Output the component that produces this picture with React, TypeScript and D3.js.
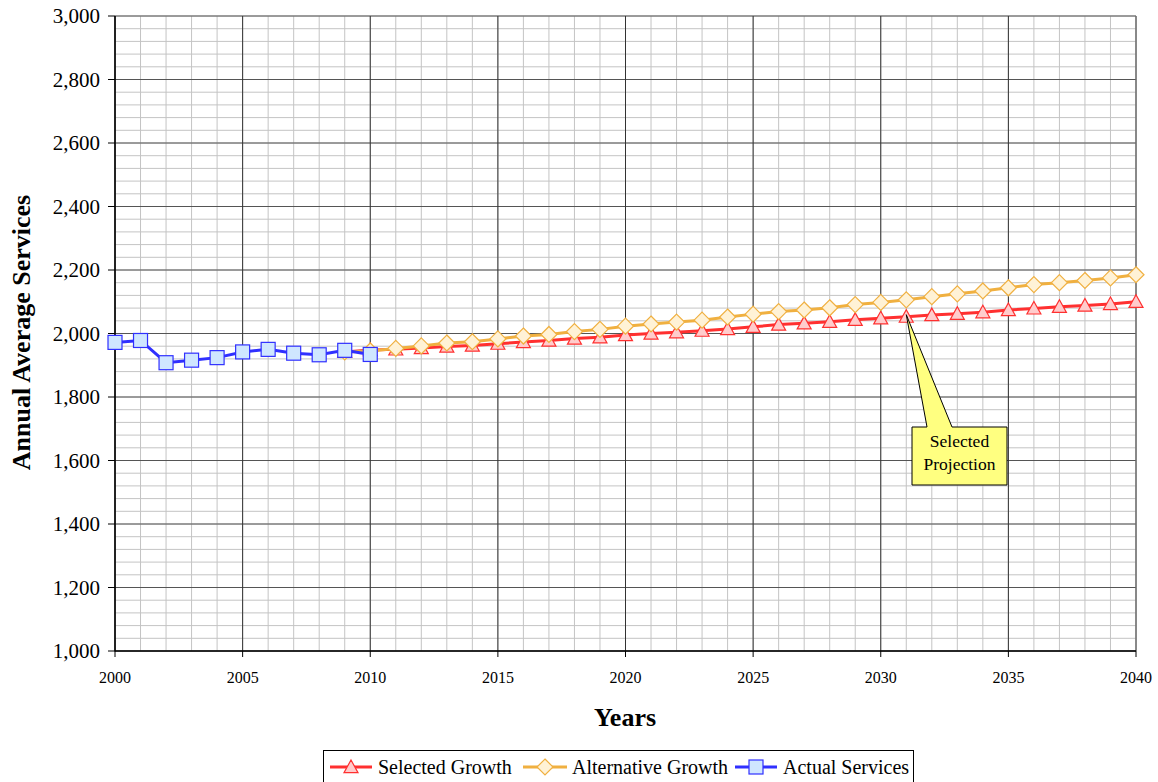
import React from "react";
import * as d3 from "d3";

// Annual average services: actual history and two growth projections
const actualYears = [2000, 2001, 2002, 2003, 2004, 2005, 2006, 2007, 2008, 2009, 2010];
const actualServices = [1972, 1978, 1908, 1916, 1924, 1942, 1950, 1938, 1933, 1947, 1934];

const projectionYears = [
  2009, 2010, 2011, 2012, 2013, 2014, 2015, 2016, 2017, 2018, 2019, 2020,
  2021, 2022, 2023, 2024, 2025, 2026, 2027, 2028, 2029, 2030, 2031, 2032,
  2033, 2034, 2035, 2036, 2037, 2038, 2039, 2040,
];
const selectedGrowth = [
  1942, 1948, 1950, 1954, 1959, 1962, 1968, 1973, 1978, 1984, 1988, 1995,
  2000, 2004, 2009, 2014, 2021, 2028, 2032, 2037, 2043, 2048, 2053, 2058,
  2062, 2067, 2074, 2079, 2084, 2088, 2093, 2100,
];
const alternativeGrowth = [
  1942, 1945, 1953, 1961, 1970, 1974, 1983, 1992, 1997, 2006, 2013, 2023,
  2030, 2036, 2042, 2052, 2061, 2069, 2074, 2081, 2091, 2098, 2106, 2116,
  2125, 2134, 2144, 2154, 2160, 2167, 2175, 2185,
];

const yTicks = [1000, 1200, 1400, 1600, 1800, 2000, 2200, 2400, 2600, 2800, 3000];
const xTicks = [2000, 2005, 2010, 2015, 2020, 2025, 2030, 2035, 2040];
const calloutYear = 2031;
const calloutLines = ["Selected", "Projection"];

const W = 1158;
const H = 782;
const FONT = "'Liberation Serif', 'Times New Roman', serif";

const left = 115;
const right = 1136;
const top = 16;
const bottom = 651;

type Pt = { x: number; y: number };

export default function App() {
  const x = d3.scaleLinear().domain([2000, 2040]).range([left, right]);
  const y = d3.scaleLinear().domain([1000, 3000]).range([bottom, top]);

  const line = d3
    .line<Pt>()
    .x((d) => d.x)
    .y((d) => d.y);

  const actualPts = actualYears.map((yr, i) => ({ x: x(yr), y: y(actualServices[i]) }));
  const selPts = projectionYears.map((yr, i) => ({ x: x(yr), y: y(selectedGrowth[i]) }));
  const altPts = projectionYears.map((yr, i) => ({ x: x(yr), y: y(alternativeGrowth[i]) }));

  const minorY = d3.range(1000, 3001, 40);
  const minorX = d3.range(2000, 2041, 1);

  const tri = (cx: number, cy: number, s = 7) =>
    `M${cx},${cy - s} L${cx + s},${cy + s * 0.8} L${cx - s},${cy + s * 0.8} Z`;
  const diamond = (cx: number, cy: number, s = 8) =>
    `M${cx},${cy - s} L${cx + s},${cy} L${cx},${cy + s} L${cx - s},${cy} Z`;

  const red = "#ff3030";
  const redFill = "#ffcccc";
  const orange = "#f0b040";
  const orangeFill = "#fff2d6";
  const blue = "#3030ff";
  const blueFill = "#cfe6ff";

  // callout anchored to the selected projection at calloutYear
  const ci = projectionYears.indexOf(calloutYear);
  const tipX = x(calloutYear);
  const tipY = y(selectedGrowth[ci]) - 2;
  const bx = 912;
  const by = 427;
  const bw = 95;
  const bh = 58;

  const legendY = 767;

  return (
    <svg width={W} height={H} style={{ position: "absolute", left: 0, top: 0, background: "#fff" }}>
      <rect x={0} y={0} width={W} height={H} fill="#fff" />
      {/* minor grid */}
      {minorY.map((v) => (
        <line key={"my" + v} x1={left} x2={right} y1={y(v)} y2={y(v)} stroke="#c4c4c4" strokeWidth={1} />
      ))}
      {minorX.map((v) => (
        <line key={"mx" + v} x1={x(v)} x2={x(v)} y1={top} y2={bottom} stroke="#c4c4c4" strokeWidth={1} />
      ))}
      {/* major grid */}
      {yTicks.map((v) => (
        <line key={"gy" + v} x1={left} x2={right} y1={y(v)} y2={y(v)} stroke="#555" strokeWidth={1} />
      ))}
      {xTicks.map((v) => (
        <line key={"gx" + v} x1={x(v)} x2={x(v)} y1={top} y2={bottom} stroke="#333" strokeWidth={1} />
      ))}
      <line x1={right} x2={right} y1={top} y2={bottom} stroke="#888" />
      {/* axes */}
      <line x1={left} x2={left} y1={top} y2={bottom + 0.5} stroke="#000" strokeWidth={1.5} />
      <line x1={left} x2={right} y1={bottom} y2={bottom} stroke="#000" strokeWidth={1.5} />
      {yTicks.map((v) => (
        <g key={"ty" + v}>
          <line x1={left - 7} x2={left} y1={y(v)} y2={y(v)} stroke="#000" />
          <text x={100} y={y(v)} dy="0.35em" textAnchor="end" fontFamily={FONT} fontSize={21} fill="#000">
            {d3.format(",")(v)}
          </text>
        </g>
      ))}
      {xTicks.map((v) => (
        <g key={"tx" + v}>
          <line x1={x(v)} x2={x(v)} y1={bottom} y2={bottom + 6} stroke="#000" />
          <text x={x(v)} y={683} textAnchor="middle" fontFamily={FONT} fontSize={16} fill="#000">
            {v}
          </text>
        </g>
      ))}
      <text x={625} y={726} textAnchor="middle" fontFamily={FONT} fontSize={26} fontWeight="bold">
        Years
      </text>
      <text
        transform={`translate(30,${(top + bottom) / 2 - 1}) rotate(-90)`}
        textAnchor="middle"
        fontFamily={FONT}
        fontSize={26}
        fontWeight="bold"
      >
        Annual Average Services
      </text>

      {/* selected growth */}
      <path d={line(selPts) ?? ""} fill="none" stroke={red} strokeWidth={3} />
      {selPts.map((p, i) => (
        <path key={"s" + i} d={tri(p.x, p.y)} fill={redFill} stroke={red} strokeWidth={1.2} />
      ))}
      {/* alternative growth */}
      <path d={line(altPts) ?? ""} fill="none" stroke={orange} strokeWidth={3} />
      {altPts.map((p, i) => (
        <path key={"a" + i} d={diamond(p.x, p.y)} fill={orangeFill} stroke={orange} strokeWidth={1.2} />
      ))}
      {/* actual services */}
      <path d={line(actualPts) ?? ""} fill="none" stroke={blue} strokeWidth={3} />
      {actualPts.map((p, i) => (
        <rect key={"b" + i} x={p.x - 7} y={p.y - 7} width={14} height={14} fill={blueFill} stroke={blue} strokeWidth={1.2} />
      ))}

      {/* callout */}
      <path
        d={`M${bx},${by} L927,${by} L${tipX},${tipY} L952,${by} L${bx + bw},${by} L${bx + bw},${by + bh} L${bx},${by + bh} Z`}
        fill="#ffff80"
        stroke="#000"
        strokeWidth={1}
      />
      {calloutLines.map((t, i) => (
        <text key={t} x={bx + bw / 2} y={by + 20 + i * 23} textAnchor="middle" fontFamily={FONT} fontSize={17.5}>
          {t}
        </text>
      ))}

      {/* legend */}
      <rect x={323.5} y={750.5} width={590} height={40} fill="#fff" stroke="#000" />
      <line x1={330} x2={372} y1={legendY} y2={legendY} stroke={red} strokeWidth={3} />
      <path d={tri(351, legendY)} fill={redFill} stroke={red} strokeWidth={1.2} />
      <text x={378} y={legendY} dy="0.35em" fontFamily={FONT} fontSize={20}>Selected Growth</text>
      <line x1={523} x2={567} y1={legendY} y2={legendY} stroke={orange} strokeWidth={3} />
      <path d={diamond(545, legendY)} fill={orangeFill} stroke={orange} strokeWidth={1.2} />
      <text x={572} y={legendY} dy="0.35em" fontFamily={FONT} fontSize={20}>Alternative Growth</text>
      <line x1={735} x2={777} y1={legendY} y2={legendY} stroke={blue} strokeWidth={3} />
      <rect x={749} y={legendY - 7} width={14} height={14} fill={blueFill} stroke={blue} strokeWidth={1.2} />
      <text x={783} y={legendY} dy="0.35em" fontFamily={FONT} fontSize={20}>Actual Services</text>
    </svg>
  );
}
